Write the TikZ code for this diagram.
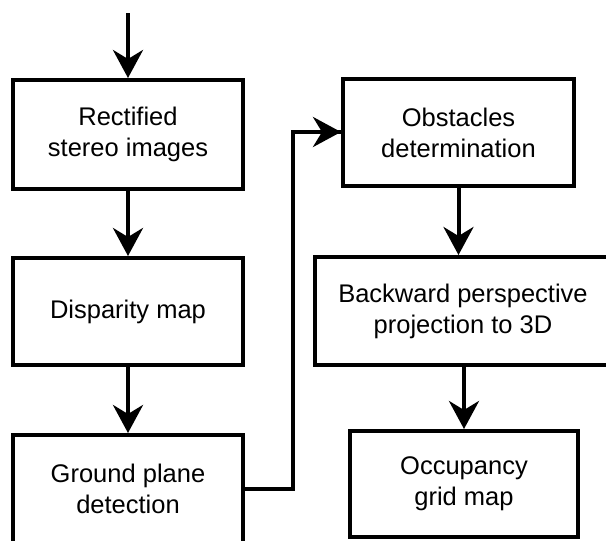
\documentclass[tikz,border=0pt]{standalone}
\usepackage{fontspec}
\setmainfont{Liberation Sans}
\usetikzlibrary{arrows.meta}
\begin{document}
\begin{tikzpicture}[x=1pt,y=-1pt,
  stage/.style={draw=black, line width=4pt, fill=white, align=center,
    inner sep=0pt,
    font=\fontsize{25.5pt}{31pt}\selectfont},
  flow/.style={line width=4pt, -{Stealth[length=28pt,width=30pt,inset=9pt]}},
  link/.style={line width=4pt}]
  \useasboundingbox (0,0) rectangle (606,541);
  \clip (0,0) rectangle (606,541);

  % left column
  \node[stage, minimum width=230pt, minimum height=109pt] (rect) at (128,134.5) {Rectified\\stereo images};
  \node[stage, minimum width=230pt, minimum height=107pt] (disp) at (128,311.5) {Disparity map};
  \node[stage, minimum width=230pt, minimum height=108pt] (ground) at (128,489) {Ground plane\\detection};

  % right column
  \node[stage, minimum width=231pt, minimum height=107pt] (obst) at (458.5,132.5) {Obstacles\\determination};
  \node[stage, minimum width=296pt, minimum height=108pt] (back) at (463,311) {Backward perspective\\projection to 3D};
  \node[stage, minimum width=228pt, minimum height=106pt] (occ) at (464,484) {Occupancy\\grid map};

  % input arrow
  \coordinate (in) at (128,13);
  \draw[flow] (in) -- (rect.north);

  % left column flow
  \draw[flow] (rect.south) -- (disp.north);
  \draw[flow] (disp.south) -- (ground.north);

  % cross-over to the right column
  \coordinate (g1) at (293,489);
  \coordinate (g2) at (293,132);
  \draw[link, line join=miter] (ground.east |- g1) -- (g1) -- (g2) -- (obst.west |- g2);
  \draw[flow] (305,132) -- (obst.west |- g2);

  % right column flow
  \draw[flow] (obst.south) -- (obst.south |- back.north);
  \draw[flow] (back.south -| occ.north) -- (occ.north);
\end{tikzpicture}
\end{document}
